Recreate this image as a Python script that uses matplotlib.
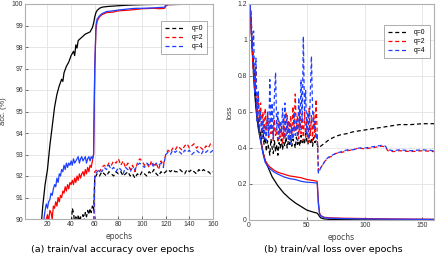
import numpy as np
import matplotlib
matplotlib.use("Agg")
import matplotlib.pyplot as plt

# ---------------- accuracy (left) ----------------
acc_tr0_ep = [1, 5, 10, 14, 16, 18, 20, 22, 24, 26, 28, 30, 32, 33, 34, 36, 38, 40, 42, 43, 44, 45, 46, 48,
              50, 52, 54, 56, 58, 59, 60, 61, 62, 64, 66, 70, 80, 90, 100, 110, 120, 130, 160]
acc_tr0 = [70, 80, 86, 89.2, 90.6, 91.6, 92.3, 93.4, 94.3, 95.2, 95.8, 96.2, 96.5, 96.4, 96.8, 97.1, 97.3,
           97.6, 97.8, 97.6, 98.1, 97.95, 98.3, 98.4, 98.5, 98.6, 98.65, 98.7, 98.9, 99.1, 99.4, 99.6, 99.7,
           99.8, 99.85, 99.88, 99.92, 99.95, 99.97, 99.98, 99.99, 100, 100]

acc_tr2_ep = [1, 10, 15, 18, 19, 20, 21, 22, 23, 24, 25, 26, 27, 28, 29, 30, 31, 32, 33, 34, 35, 36, 37, 38,
              39, 40, 41, 42, 43, 44, 45, 46, 47, 48, 49, 50, 51, 52, 53, 54, 55, 56, 57, 58, 59, 60, 61, 62,
              64, 66, 68, 70, 75, 80, 85, 90, 95, 100, 110, 115, 119, 120, 122, 130, 160]
acc_tr2 = [70, 84, 88, 89.5, 90.0, 90.2, 89.9, 90.4, 90.3, 90.0, 90.6, 90.5, 90.8, 90.6, 91.0, 90.8, 91.1,
           91.0, 91.3, 91.2, 91.5, 91.3, 91.6, 91.4, 91.7, 91.6, 91.8, 91.6, 91.9, 91.7, 92.0, 91.8, 92.1,
           91.9, 92.1, 92.2, 92.0, 92.3, 92.1, 92.4, 92.2, 92.5, 92.4, 92.7, 93.0, 97.0, 98.8, 99.2, 99.4,
           99.5, 99.55, 99.6, 99.62, 99.68, 99.7, 99.72, 99.75, 99.78, 99.8, 99.78, 99.8, 99.9, 99.97, 99.98, 100]

acc_tr4_ep = [1, 10, 15, 17, 18, 19, 20, 21, 22, 23, 24, 25, 26, 27, 28, 29, 30, 31, 32, 33, 34, 35, 36, 37,
              38, 39, 40, 41, 42, 43, 44, 45, 46, 47, 48, 49, 50, 51, 52, 53, 54, 55, 56, 57, 58, 59, 60, 61,
              62, 64, 66, 68, 70, 75, 80, 85, 90, 95, 100, 110, 115, 119, 120, 122, 130, 160]
acc_tr4 = [70, 85, 89, 90.0, 90.4, 90.7, 90.5, 90.8, 90.9, 91.2, 91.1, 91.4, 91.6, 91.5, 91.9, 91.7, 92.1,
           92.0, 92.3, 92.2, 92.5, 92.3, 92.6, 92.4, 92.6, 92.5, 92.7, 92.5, 92.8, 92.6, 92.7, 92.8, 92.9,
           92.6, 92.8, 92.9, 92.7, 92.8, 92.9, 92.6, 92.8, 92.9, 92.7, 92.9, 92.8, 93.0, 97.0, 99.0, 99.3,
           99.45, 99.55, 99.6, 99.65, 99.68, 99.72, 99.75, 99.78, 99.8, 99.8, 99.82, 99.84, 99.85, 99.95,
           99.97, 99.98, 100]

acc_va_ep = [60, 62, 64, 66, 68, 70, 72, 74, 76, 78, 80, 82, 84, 86, 88, 90, 92, 94, 96, 98, 100, 102, 104,
             106, 108, 110, 112, 114, 116, 118, 120, 122, 124, 126, 128, 130, 132, 134, 136, 138, 140, 142,
             144, 146, 148, 150, 152, 154, 156, 158, 160]
acc_va0_pre_ep = [1, 30, 40, 41, 42, 43, 44, 45, 46, 47, 48, 49, 50, 51, 52, 53, 54, 55, 56, 57, 58, 59]
acc_va0_pre = [80, 88, 89.5, 90.5, 90.3, 89.8, 90.1, 89.6, 90.2, 89.9, 90.1, 89.7, 90.2, 89.9, 90.3, 90.1,
               90.4, 90.2, 90.5, 90.3, 90.6, 90.4]
acc_va0 = [91.9, 92.1, 92.0, 92.2, 92.1, 92.0, 92.2, 92.1, 92.0, 92.2, 92.1, 92.2, 92.0, 92.1, 92.2, 92.0,
           92.1, 91.9, 92.1, 92.0, 92.2, 92.1, 92.0, 92.2, 92.1, 92.3, 92.1, 92.0, 92.2, 92.1, 92.2, 92.3,
           92.2, 92.3, 92.2, 92.2, 92.3, 92.2, 92.1, 92.3, 92.2, 92.3, 92.2, 92.1, 92.3, 92.2, 92.3, 92.2,
           92.2, 92.1, 92.2]
acc_va2 = [92.2, 92.3, 92.2, 92.4, 92.5, 92.4, 92.6, 92.5, 92.7, 92.6, 92.8, 92.5, 92.7, 92.4, 92.6, 92.3,
           92.5, 92.2, 92.6, 92.8, 92.7, 92.5, 92.6, 92.4, 92.7, 92.5, 92.6, 92.3, 92.7, 92.5, 93.0, 93.2,
           93.1, 93.3, 93.2, 93.4, 93.3, 93.2, 93.4, 93.5, 93.3, 93.4, 93.5, 93.3, 93.4, 93.3, 93.2, 93.4,
           93.3, 93.5, 93.4]
acc_va4 = [92.0, 92.2, 92.3, 92.2, 92.4, 92.3, 92.5, 92.3, 92.4, 92.2, 92.4, 92.3, 92.1, 92.4, 92.3, 92.2,
           92.4, 92.3, 92.5, 92.6, 92.5, 92.4, 92.6, 92.5, 92.6, 92.4, 92.6, 92.5, 92.6, 92.4, 93.0, 93.1,
           93.0, 93.2, 93.1, 93.2, 93.1, 93.0, 93.2, 93.1, 93.2, 93.0, 93.1, 93.2, 93.1, 93.0, 93.2, 93.1,
           93.2, 93.1, 93.2]

# ---------------- loss (right) ----------------
loss_tr_ep = [1, 2, 3, 4, 5, 6, 7, 8, 10, 12, 14, 16, 18, 20, 22, 25, 30, 35, 40, 45, 50, 55, 59, 60, 61, 62,
              65, 70, 80, 100, 120, 160]
loss_tr0 = [1.2, 1.05, 0.92, 0.8, 0.7, 0.62, 0.56, 0.51, 0.44, 0.38, 0.33, 0.3, 0.27, 0.24, 0.22, 0.19,
            0.15, 0.12, 0.095, 0.075, 0.055, 0.045, 0.038, 0.03, 0.02, 0.012, 0.006, 0.003, 0.002, 0.001,
            0.001, 0.001]
loss_tr2 = [1.2, 1.05, 0.95, 0.85, 0.76, 0.68, 0.61, 0.55, 0.46, 0.38, 0.33, 0.31, 0.295, 0.285, 0.275,
            0.265, 0.255, 0.245, 0.24, 0.235, 0.225, 0.22, 0.215, 0.1, 0.04, 0.025, 0.015, 0.012, 0.01,
            0.008, 0.006, 0.004]
loss_tr4 = [1.2, 1.04, 0.93, 0.83, 0.74, 0.66, 0.59, 0.53, 0.45, 0.37, 0.32, 0.3, 0.285, 0.275, 0.265,
            0.255, 0.24, 0.23, 0.225, 0.215, 0.21, 0.208, 0.205, 0.09, 0.035, 0.022, 0.013, 0.01, 0.008,
            0.006, 0.005, 0.003]

loss_va_ep = list(range(1, 60)) + [60, 62, 64, 66, 68, 70, 72, 75, 80, 85, 90, 95, 100, 105, 110, 115, 118,
                                   120, 125, 130, 140, 150, 160]
loss_va0 = [1.2, 1.1, 0.95, 0.85, 0.75, 0.65, 0.6, 0.55, 0.5, 0.48, 0.45, 0.5, 0.42, 0.46, 0.38, 0.44, 0.4,
            0.36, 0.45, 0.4, 0.37, 0.44, 0.38, 0.42, 0.36, 0.43, 0.4, 0.45, 0.39, 0.43, 0.41, 0.46, 0.4,
            0.44, 0.42, 0.47, 0.41, 0.45, 0.43, 0.4, 0.46, 0.42, 0.44, 0.41, 0.47, 0.43, 0.45, 0.42, 0.48,
            0.44, 0.42, 0.47, 0.43, 0.45, 0.41, 0.46, 0.43, 0.44, 0.42,
            0.4, 0.41, 0.42, 0.43, 0.44, 0.45, 0.455, 0.465, 0.475, 0.48, 0.49, 0.495, 0.5, 0.505, 0.51,
            0.515, 0.518, 0.52, 0.525, 0.53, 0.53, 0.535, 0.535]
loss_va2 = [1.2, 1.05, 0.92, 0.8, 0.72, 0.85, 0.6, 0.7, 0.55, 0.65, 0.5, 0.6, 0.48, 0.62, 0.5, 0.58, 0.45,
            0.55, 0.48, 0.52, 0.44, 0.56, 0.47, 0.5, 0.43, 0.55, 0.46, 0.52, 0.42, 0.57, 0.45, 0.6, 0.48,
            0.55, 0.44, 0.58, 0.47, 0.63, 0.49, 0.7, 0.5, 0.58, 0.45, 0.62, 0.48, 0.57, 0.44, 0.6, 0.46,
            0.56, 0.43, 0.62, 0.47, 0.58, 0.44, 0.6, 0.46, 0.67, 0.48,
            0.27, 0.29, 0.31, 0.33, 0.34, 0.35, 0.355, 0.37, 0.375, 0.385, 0.39, 0.4, 0.395, 0.4, 0.405,
            0.41, 0.405, 0.385, 0.38, 0.385, 0.38, 0.385, 0.38]
loss_va4 = [1.2, 1.1, 0.95, 1.05, 0.7, 0.9, 0.55, 0.72, 0.5, 0.6, 0.46, 0.55, 0.45, 0.52, 0.44, 0.6, 0.47,
            0.78, 0.5, 0.65, 0.45, 0.7, 0.82, 0.5, 0.6, 0.45, 0.55, 0.48, 0.62, 0.45, 0.65, 0.47, 0.58,
            0.44, 0.55, 0.42, 0.52, 0.45, 0.6, 0.47, 0.55, 0.44, 0.68, 0.5, 0.78, 0.55, 1.02, 0.6, 0.72,
            0.48, 0.6, 0.45, 0.7, 0.91, 0.6, 0.5, 0.55, 0.45, 0.48,
            0.26, 0.29, 0.31, 0.33, 0.345, 0.355, 0.36, 0.37, 0.38, 0.39, 0.39, 0.4, 0.4, 0.405, 0.41,
            0.415, 0.41, 0.39, 0.385, 0.39, 0.385, 0.39, 0.385]

labels = ["q=0", "q=2", "q=4"]
colors = ["black", "#ff0000", "#1f3fff"]

tick_font = "Liberation Sans"
fs = 4.9
lw = 0.9
dash = (0, (3.2, 2.2))

fig = plt.figure(figsize=(4.36, 2.59), dpi=100)
ax1 = fig.add_axes([25 / 436, 40 / 259, 188 / 436, 215 / 259])
ax2 = fig.add_axes([249 / 436, 39 / 259, 185 / 436, 216 / 259])


def style(ax):
    ax.grid(True, color="#e3e3e3", lw=0.6)
    ax.set_axisbelow(True)
    for s in ax.spines.values():
        s.set_color("#b0b0b0")
        s.set_linewidth(0.8)
    ax.tick_params(labelsize=fs, colors="#333333", length=2, width=0.5, pad=1.5, direction="in")
    for t in ax.get_xticklabels() + ax.get_yticklabels():
        t.set_fontfamily(tick_font)


def add_legend(ax, anchor):
    leg = ax.legend(loc="upper right", bbox_to_anchor=anchor, handlelength=3.0, handletextpad=0.9,
                    prop={"family": tick_font, "size": fs}, frameon=True, fancybox=False,
                    edgecolor="#888888", borderpad=0.6, labelspacing=0.3, borderaxespad=0)
    leg.get_frame().set_linewidth(0.6)


# left
ax1.plot(acc_tr0_ep, acc_tr0, color=colors[0], lw=lw)
ax1.plot(acc_tr2_ep, acc_tr2, color=colors[1], lw=lw)
ax1.plot(acc_tr4_ep, acc_tr4, color=colors[2], lw=lw)
ax1.plot(acc_va0_pre_ep + acc_va_ep, acc_va0_pre + acc_va0, color=colors[0], lw=lw, ls=dash, label=labels[0])
ax1.plot([59] + acc_va_ep, [89.0] + acc_va2, color=colors[1], lw=lw, ls=dash, label=labels[1])
ax1.plot([59] + acc_va_ep, [89.0] + acc_va4, color=colors[2], lw=lw, ls=dash, label=labels[2])
ax1.set_xlim(1, 160)
ax1.set_ylim(90, 100)
ax1.set_xticks(range(20, 161, 20))
ax1.set_yticks(range(90, 101))
style(ax1)
ax1.set_ylabel("acc. (%)", fontsize=5.4, family=tick_font, color="#333333", labelpad=3)
ax1.set_xlabel("epochs", fontsize=fs + 0.6, color="#444444", labelpad=3)
add_legend(ax1, (0.968, 0.921))

# right
ax2.plot(loss_tr_ep, loss_tr0, color=colors[0], lw=lw)
ax2.plot(loss_tr_ep, loss_tr2, color=colors[1], lw=lw)
ax2.plot(loss_tr_ep, loss_tr4, color=colors[2], lw=lw)
ax2.plot(loss_va_ep, loss_va0, color=colors[0], lw=lw, ls=dash, label=labels[0])
ax2.plot(loss_va_ep, loss_va2, color=colors[1], lw=lw, ls=dash, label=labels[1])
ax2.plot(loss_va_ep, loss_va4, color=colors[2], lw=lw, ls=dash, label=labels[2])
ax2.set_xlim(0, 160)
ax2.set_ylim(0, 1.2)
ax2.set_xticks([0, 50, 100, 150])
ax2.set_yticks([0, 0.2, 0.4, 0.6, 0.8, 1.0, 1.2])
ax2.set_yticklabels(["0", "0.2", "0.4", "0.6", "0.8", "1", "1.2"])
style(ax2)
ax2.set_ylabel("loss", fontsize=5.4, family=tick_font, color="#333333", labelpad=3)
ax2.set_xlabel("epochs", fontsize=fs + 0.6, color="#444444", labelpad=3)
add_legend(ax2, (0.978, 0.903))

fig.text(113 / 436, 1 - 250 / 259, "(a) train/val accuracy over epochs", ha="center", va="center", fontsize=6.8)
fig.text(333 / 436, 1 - 250 / 259, "(b) train/val loss over epochs", ha="center", va="center", fontsize=6.8)

fig.savefig("out.png", dpi=100)
